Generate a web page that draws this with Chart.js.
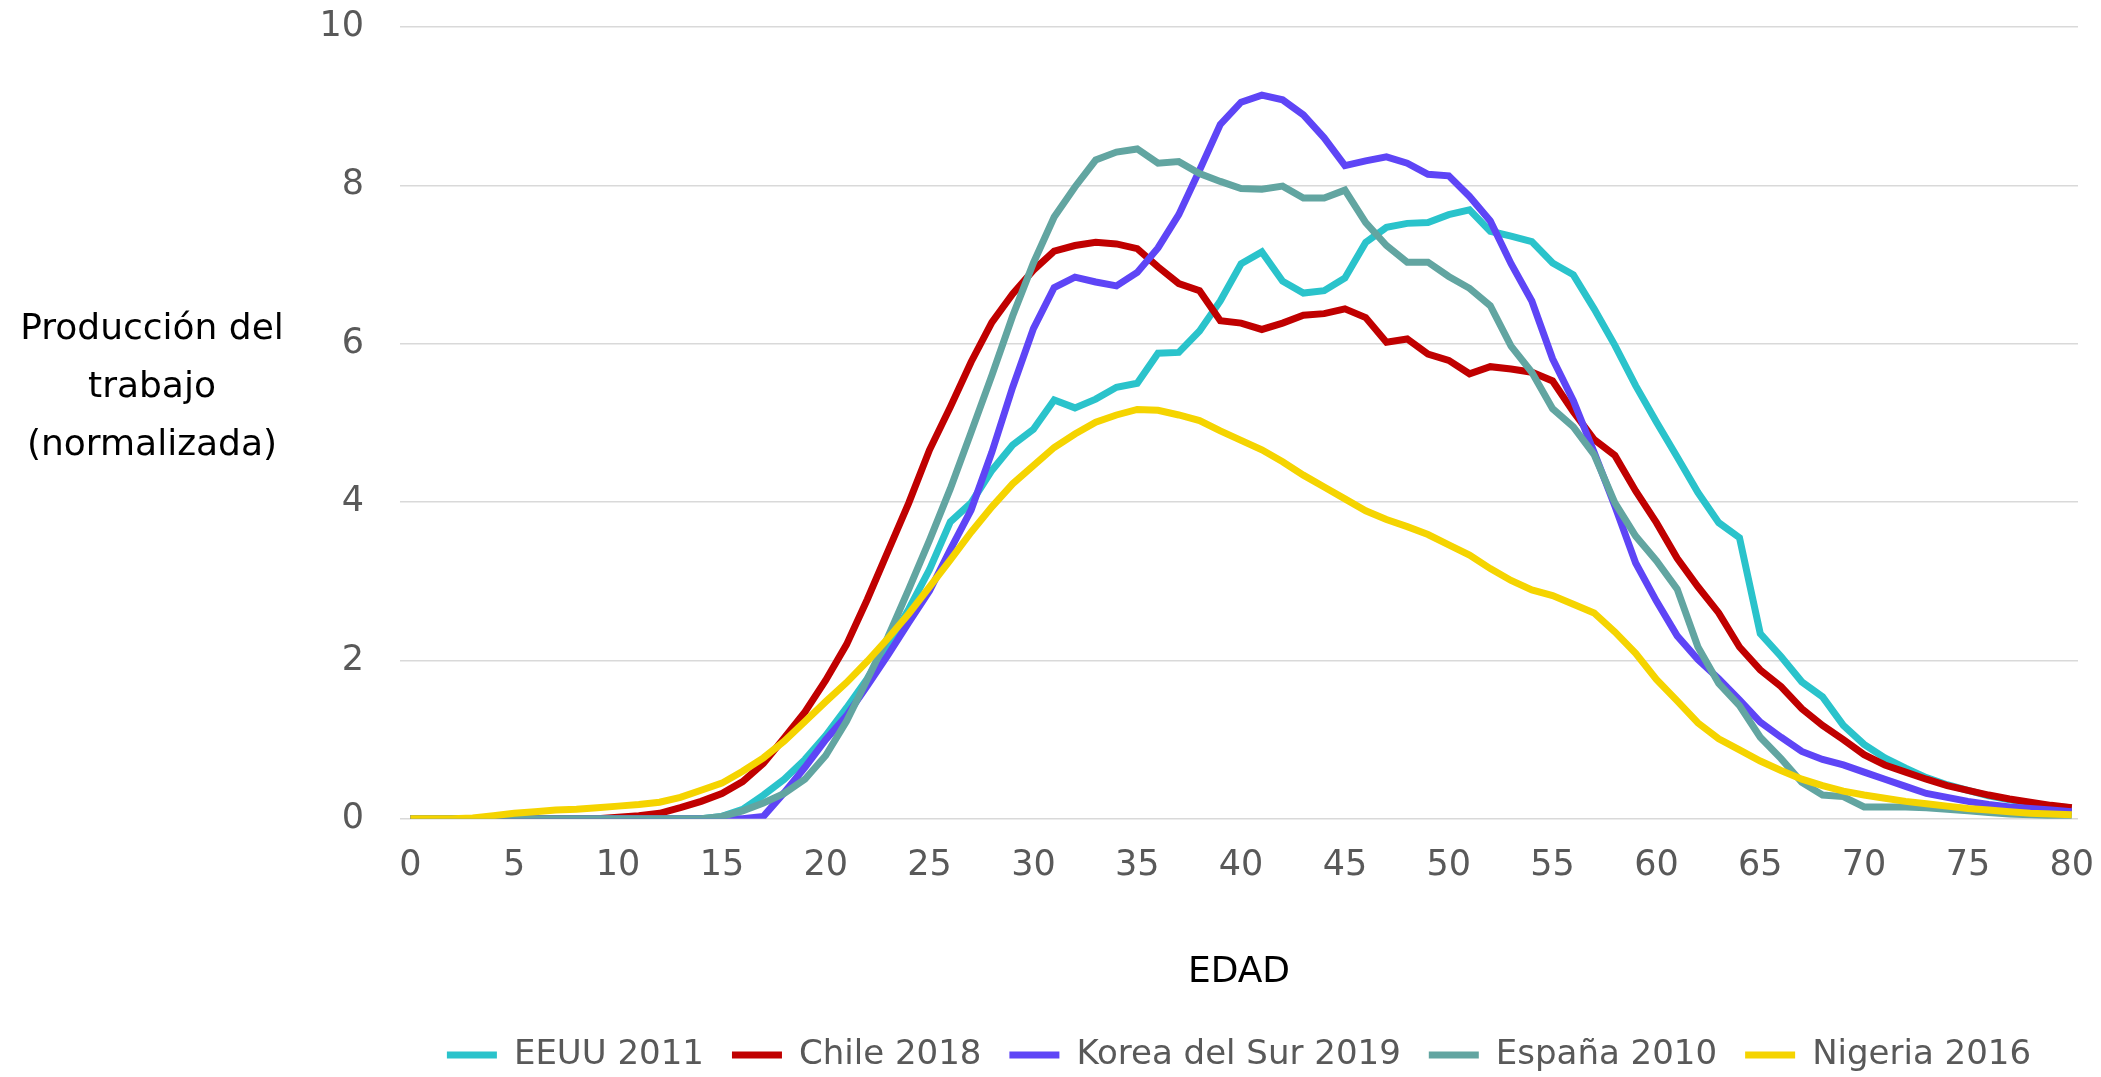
<!DOCTYPE html>
<html>
<head>
<meta charset="utf-8">
<script src="https://cdn.jsdelivr.net/npm/chart.js@4/dist/chart.umd.min.js"></script>
<style>
  html, body { margin: 0; padding: 0; background: #fff; }
</style>
</head>
<body>
<canvas id="chart" width="2101" height="1077"></canvas>
<script>
// edades (eje x) y marcas
const ages = [0,1,2,3,4,5,6,7,8,9,10,11,12,13,14,15,16,17,18,19,20,21,22,23,24,25,26,27,28,29,30,
  31,32,33,34,35,36,37,38,39,40,41,42,43,44,45,46,47,48,49,50,51,52,53,54,55,56,57,58,59,60,
  61,62,63,64,65,66,67,68,69,70,71,72,73,74,75,76,77,78,79,80];
const xTicks = [0,5,10,15,20,25,30,35,40,45,50,55,60,65,70,75,80];
const yTitleLines = ['Producción del', 'trabajo', '(normalizada)'];

// series
const eeuu2011 = [0,0,0,0,0,0,0,0,0,0,0,0,0,0,0,0.03,0.12,0.3,0.5,0.75,1.05,1.4,1.77,2.2,2.65,3.15,3.75,3.99,4.4,4.72,4.92,
  5.29,5.19,5.3,5.45,5.5,5.88,5.89,6.16,6.54,7.01,7.16,6.79,6.64,6.67,6.83,7.28,7.47,7.52,7.53,7.63,
  7.69,7.42,7.36,7.29,7.02,6.87,6.44,5.98,5.47,5.01,4.57,4.12,3.74,3.55,2.34,2.05,1.73,1.54,1.18,0.94,
  0.77,0.64,0.52,0.43,0.36,0.29,0.24,0.2,0.16,0.14];
const chile2018 = [0,0,0,0,0,0,0,0,0,0,0.02,0.04,0.07,0.14,0.22,0.32,0.47,0.7,1.02,1.35,1.75,2.2,2.77,3.38,3.99,4.66,5.2,5.77,6.27,6.63,6.93,
  7.17,7.24,7.28,7.26,7.2,6.97,6.76,6.67,6.29,6.26,6.18,6.26,6.36,6.38,6.44,6.33,6.02,6.06,5.87,5.79,
  5.62,5.71,5.68,5.64,5.53,5.14,4.79,4.59,4.14,3.74,3.29,2.93,2.6,2.17,1.88,1.67,1.39,1.18,1.0,0.81,
  0.68,0.59,0.5,0.42,0.36,0.3,0.25,0.21,0.17,0.14];
const korea2019 = [0,0,0,0,0,0,0,0,0,0,0,0,0,0,0,0,0,0.03,0.33,0.65,1.0,1.3,1.68,2.07,2.48,2.88,3.4,3.9,4.63,5.45,6.19,
  6.71,6.84,6.78,6.73,6.9,7.21,7.63,8.19,8.77,9.05,9.14,9.08,8.89,8.6,8.25,8.31,8.36,8.28,8.14,8.12,
  7.86,7.55,7.01,6.54,5.81,5.28,4.63,3.95,3.23,2.75,2.31,2.01,1.77,1.5,1.22,1.03,0.85,0.75,0.68,0.59,
  0.5,0.41,0.32,0.27,0.22,0.18,0.15,0.13,0.11,0.09];
const espana2010 = [0,0,0,0,0,0,0,0,0,0,0,0,0,0,0,0.03,0.1,0.2,0.32,0.5,0.8,1.23,1.76,2.3,2.9,3.52,4.17,4.88,5.6,6.35,7.02,
  7.6,7.98,8.32,8.42,8.46,8.28,8.3,8.15,8.05,7.96,7.95,7.99,7.84,7.84,7.94,7.53,7.24,7.03,7.03,6.85,
  6.7,6.48,5.97,5.64,5.18,4.95,4.6,3.99,3.57,3.26,2.9,2.17,1.71,1.43,1.03,0.76,0.46,0.3,0.28,0.15,
  0.15,0.15,0.14,0.12,0.1,0.08,0.06,0.05,0.04,0.03];
const nigeria2016 = [0,0,0,0.01,0.04,0.07,0.09,0.11,0.12,0.14,0.16,0.18,0.21,0.27,0.36,0.45,0.6,0.77,0.98,1.23,1.48,1.72,1.99,2.28,2.59,2.93,3.27,3.62,3.94,4.23,4.46,
  4.69,4.86,5.01,5.1,5.17,5.16,5.1,5.03,4.9,4.78,4.66,4.51,4.34,4.19,4.04,3.89,3.78,3.69,3.59,3.46,
  3.33,3.16,3.01,2.89,2.82,2.71,2.6,2.36,2.09,1.76,1.49,1.21,1.01,0.87,0.73,0.61,0.5,0.42,0.35,0.3,
  0.26,0.22,0.19,0.16,0.13,0.11,0.09,0.07,0.06,0.05];

Chart.defaults.font.family = '"DejaVu Sans", sans-serif';

function serie(label, data, color, order) {
  return {
    label: label,
    data: data,
    borderColor: color,
    backgroundColor: color,
    borderWidth: 7,
    pointRadius: 0,
    pointHoverRadius: 0,
    tension: 0,
    fill: false,
    order: order
  };
}

// titulo del eje y horizontal, como en el original
const yTitle = {
  id: 'yTitle',
  afterDraw(chart) {
    const {ctx, chartArea} = chart;
    ctx.save();
    ctx.font = '36px "DejaVu Sans"';
    ctx.fillStyle = '#000';
    ctx.textAlign = 'center';
    ctx.textBaseline = 'middle';
    const cx = chartArea.left * 0.38;
    const midY = chartArea.top + (chartArea.bottom - chartArea.top) * 0.455;
    yTitleLines.forEach((t, i) => ctx.fillText(t, cx, midY + (i - 1) * 58));
    ctx.restore();
  }
};

const ctx = document.getElementById('chart').getContext('2d');
new Chart(ctx, {
  type: 'line',
  data: {
    labels: ages,
    datasets: [
      serie('EEUU 2011', eeuu2011, '#2AC3CB', 5),
      serie('Chile 2018', chile2018, '#C00000', 4),
      serie('Korea del Sur 2019', korea2019, '#5E45F6', 3),
      serie('España 2010', espana2010, '#62A5A1', 2),
      serie('Nigeria 2016', nigeria2016, '#F5D400', 1)
    ]
  },
  options: {
    responsive: false,
    animation: false,
    devicePixelRatio: 1,
    layout: { padding: { top: 27, right: 23, bottom: -5, left: 0 } },
    plugins: {
      legend: {
        position: 'bottom',
        align: 'center',
        fullSize: false,
        reverse: true,
        labels: {
          usePointStyle: true,
          pointStyle: 'line',
          pointStyleWidth: 50,
          font: { size: 34 },
          color: '#595959',
          padding: 28
        }
      },
      tooltip: { enabled: false }
    },
    scales: {
      x: {
        type: 'linear',
        min: -0.5,
        max: 80.3,
        afterBuildTicks(scale) { scale.ticks = xTicks.map(v => ({ value: v })); },
        afterFit(scale) { scale.paddingLeft = 0; scale.paddingRight = 0; },
        ticks: { autoSkip: false, maxRotation: 0, padding: 26, font: { size: 35 }, color: '#595959' },
        grid: { display: false, drawTicks: false },
        border: { display: false },
        title: { display: true, text: 'EDAD', font: { size: 36 }, color: '#000', padding: { top: 38, bottom: 16 } }
      },
      y: {
        min: 0,
        max: 10,
        afterFit(scale) { scale.width = 400; scale.paddingTop = 0; scale.paddingBottom = 0; },
        ticks: { stepSize: 2, padding: 36, font: { size: 35 }, color: '#595959' },
        grid: { color: '#D9D9D9', lineWidth: 1.5, drawTicks: false },
        border: { display: false }
      }
    }
  },
  plugins: [yTitle]
});
</script>
</body>
</html>
